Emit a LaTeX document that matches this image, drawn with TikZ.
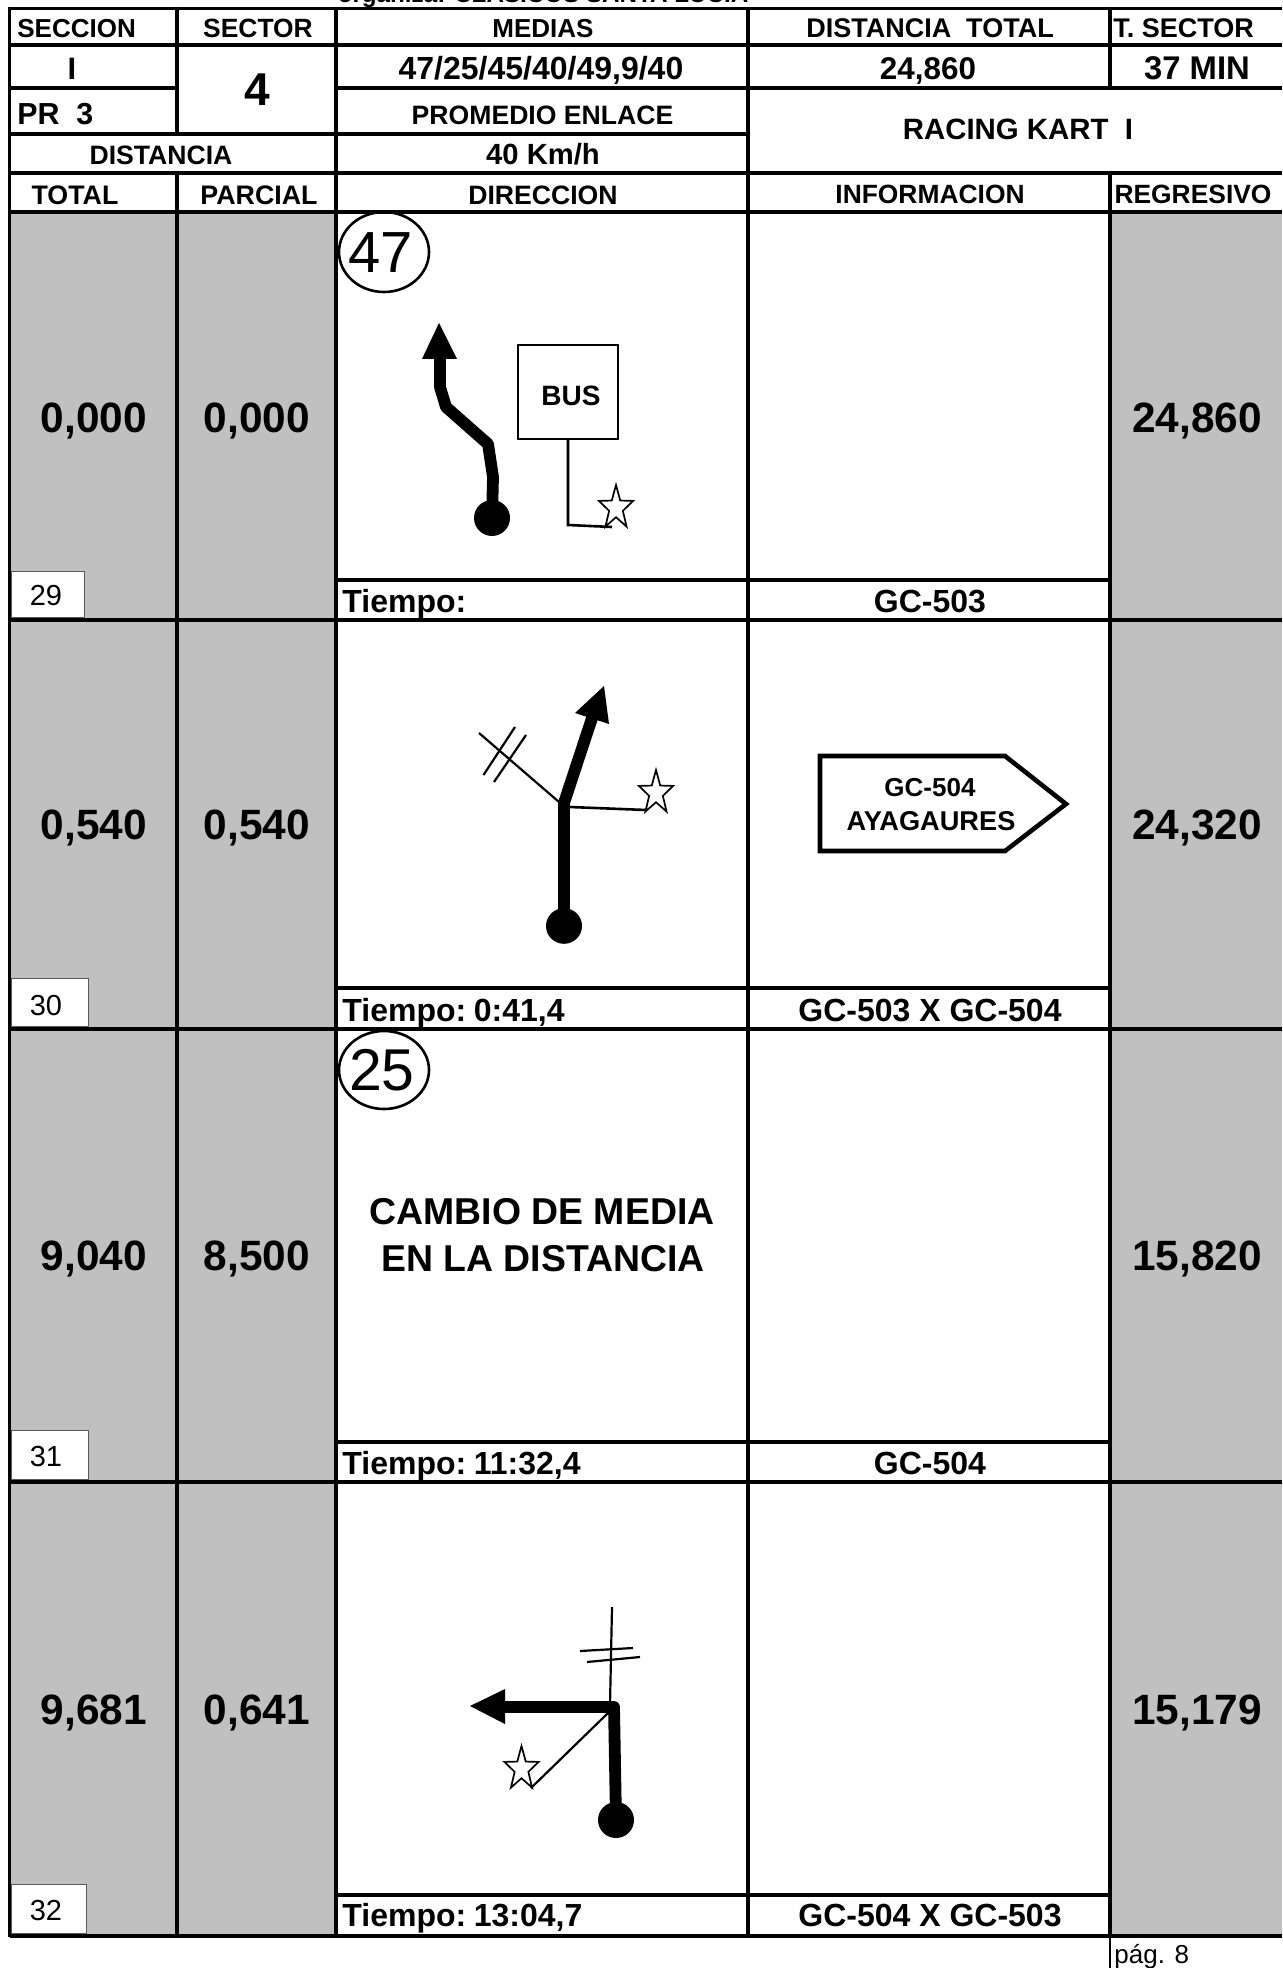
\documentclass[tikz,border=0pt]{standalone}
\usepackage{fontspec}
\setmainfont{Liberation Sans}
\tikzset{
  lab/.style={inner sep=0pt, text depth=0pt, text height=0.716*#1pt, font=\bfseries\fontsize{#1}{#1}\selectfont},
  thinlab/.style={inner sep=0pt, text depth=0pt, text height=0.716*#1pt, font=\fontsize{#1}{#1}\selectfont},
  grid/.style={line width=1.65pt, black},
  road/.style={line width=5.9pt, black, line join=round},
  side/.style={line width=1.1pt, black},
  starline/.style={line width=0.85pt, black, fill=white, line join=miter},
  rowbox/.style={draw=black!65, line width=0.5pt, fill=white},
  speedring/.style={line width=1.3pt, black},
}
\definecolor{cellgrey}{HTML}{C0C0C0}
\newcommand\hwstar[1]{\draw[starline,shift={(#1)}] (270:18 and 23) -- (306:7.2 and 9.2) -- (342:18 and 23) -- (18:7.2 and 9.2) -- (54:18 and 23) -- (90:7.2 and 9.2) -- (126:18 and 23) -- (162:7.2 and 9.2) -- (198:18 and 23) -- (234:7.2 and 9.2) -- cycle;}
\begin{document}
\begin{tikzpicture}[x=0.5pt,y=-0.5pt]
\useasboundingbox (0,0) rectangle (1282,1968);
\fill[white] (0,0) rectangle (1282,1968);
% grey columns
\fill[cellgrey] (9.5,212) rectangle (336,1936);
\fill[cellgrey] (1110,212) rectangle (1282,1936);
% number boxes
\draw[rowbox] (11,571) rectangle (84,617);
\draw[rowbox] (11,978) rectangle (88,1026);
\draw[rowbox] (11,1430) rectangle (88,1479);
\draw[rowbox] (11,1884) rectangle (86,1933);
% horizontal rules
\foreach \y in {8.5,45,173,212,620,1029,1482,1936} \draw[grid] (9.5,\y) -- (1282,\y);
\draw[grid] (9.5,88) -- (177,88);
\draw[grid] (336,88) -- (1282,88);
\draw[grid] (9.5,134) -- (748,134);
\foreach \y in {580,988,1442,1895} \draw[grid] (336,\y) -- (1110,\y);
% vertical rules
\draw[grid] (9.5,7) -- (9.5,1937);
\draw[grid] (177,7) -- (177,134);
\draw[grid] (177,173) -- (177,1936);
\draw[grid] (336,7) -- (336,1936);
\draw[grid] (748,7) -- (748,1936);
\draw[grid] (1110,7) -- (1110,88);
\draw[grid] (1110,173) -- (1110,1936);
\draw[line width=1pt] (1110,1936) -- (1110,1968);
% header texts
\node[lab=12.1, anchor=base] (org) at (543,3) {organiza: CLASICOS SANTA LUCIA};
\node[lab=13, anchor=west] (hsec) at (17,28) {SECCION};
\node[lab=13.2] (hsect) at (258,28) {SECTOR};
\node[lab=13] (hmed) at (543,28) {MEDIAS};
\node[lab=13.5] (hdist) at (930,28) {DISTANCIA\ \ TOTAL};
\node[lab=13.5, anchor=west] (htsec) at (1113,28) {T. SECTOR};
\node[lab=15.5] (vsec) at (72,68) {I};
\node[lab=23] (vsect) at (257,89) {4};
\node[lab=16] (vmed) at (541,68) {47/25/45/40/49,9/40};
\node[lab=15.7] (vdist) at (928,68) {24,860};
\node[lab=16.4] (vmin) at (1197,68) {37 MIN};
\node[lab=15.2, anchor=west] (pr) at (17,114) {PR\ \ 3};
\node[lab=13.3] (prom) at (542.5,115) {PROMEDIO ENLACE};
\node[lab=14.7] (kart) at (1018,129) {RACING KART\ \ I};
\node[lab=13.3] (dst) at (161,154.5) {DISTANCIA};
\node[lab=14.6] (kmh) at (543,154.5) {40 Km/h};
\node[lab=13.4] (ctot) at (75,194.5) {TOTAL};
\node[lab=13.4] (cpar) at (259,194.5) {PARCIAL};
\node[lab=13.3] (cdir) at (543,194.5) {DIRECCION};
\node[lab=13.2] (cinf) at (930,194.5) {INFORMACION};
\node[lab=13.2] (creg) at (1193,194.5) {REGRESIVO};
% row values
\node[lab=21.2] (a1) at (94,417) {0,000};
\node[lab=21.2] (b1) at (257,417) {0,000};
\node[lab=21.2] (c1) at (1197,417) {24,860};
\node[lab=21.2] (a2) at (94,824) {0,540};
\node[lab=21.2] (b2) at (257,824) {0,540};
\node[lab=21.2] (c2) at (1197,824) {24,320};
\node[lab=21.2] (a3) at (94,1255) {9,040};
\node[lab=21.2] (b3) at (257,1255) {8,500};
\node[lab=21.2] (c3) at (1197,1255) {15,820};
\node[lab=21.2] (a4) at (94,1709) {9,681};
\node[lab=21.2] (b4) at (257,1709) {0,641};
\node[lab=21.2] (c4) at (1197,1709) {15,179};
% row numbers
\node[thinlab=14.5] (n29) at (46,595) {29};
\node[thinlab=14.5] (n30) at (46,1005) {30};
\node[thinlab=14.5] (n31) at (46,1456) {31};
\node[thinlab=14.5] (n32) at (46,1910) {32};
% tiempo and road labels
\node[lab=16, anchor=west] (t1) at (342,601) {Tiempo:};
\node[lab=16, anchor=west] (t2) at (342,1010) {Tiempo:\kern-0.04em\ 0:41,4};
\node[lab=16, anchor=west] (t3) at (342,1463) {Tiempo:\kern-0.04em\ 11:32,4};
\node[lab=16, anchor=west] (t4) at (342,1915) {Tiempo:\kern-0.04em\ 13:04,7};
\node[lab=16] (r1) at (930,601) {GC-503};
\node[lab=16] (r2) at (930,1010) {GC-503 X GC-504};
\node[lab=16] (r3) at (930,1463) {GC-504};
\node[lab=16] (r4) at (930,1915) {GC-504 X GC-503};
% speed rings
\draw[speedring] (384,252) ellipse [x radius=22.5pt, y radius=20pt];
\node[thinlab=29] (s47) at (381,252) {47};
\draw[speedring] (384,1070) ellipse [x radius=22.5pt, y radius=19.5pt];
\node[thinlab=29.5] (s25) at (382,1069) {25};
% row 1 diagram
\draw[road] (492,518) -- (493,477) -- (488,444) -- (446,407) -- (440,387) -- (440,355);
\fill (439,323) -- (422,359) -- (457,359) -- cycle;
\fill (492,518) ellipse [x radius=9pt, y radius=9pt];
\draw[line width=1.3pt] (518,345) rectangle (618,439);
\node[lab=14] (bus) at (571,395) {BUS};
\draw[side, line width=1.3pt] (568,439) -- (568,525) -- (612,527);
\hwstar{616,508}
% row 2 diagram
\draw[road] (564,926) -- (564,803) -- (594,712);
\fill (604,686) -- (575,713) -- (609,724) -- cycle;
\fill (564,926) ellipse [x radius=9pt, y radius=8.9pt];
\draw[side] (559,802) -- (479,733);
\draw[side] (515,727) -- (483.5,775);
\draw[side] (526,735) -- (494,782);
\draw[side, line width=1.3pt] (570,807) -- (646,810);
\hwstar{656,793}
\draw[line width=2.3pt, miter limit=10] (820,756) -- (1005,756) -- (1066,804) -- (1005,851) -- (820,851) -- cycle;
\node[lab=13] (sg1) at (930,787) {GC-504};
\node[lab=13.6] (sg2) at (931,821) {AYAGAURES};
% row 3 text
\node[lab=18.7] (cm1) at (542,1211) {CAMBIO DE MEDIA};
\node[lab=18.7] (cm2) at (543,1258) {EN LA DISTANCIA};
% row 4 diagram
\draw[road] (616,1820) -- (614,1707) -- (500,1707);
\fill (470,1706) -- (505,1689) -- (505,1724) -- cycle;
\fill (616,1820) ellipse [x radius=9pt, y radius=9pt];
\draw[side] (612,1607) -- (610,1705);
\draw[side] (580,1651) -- (633,1648);
\draw[side] (587,1662) -- (640,1657);
\draw[side] (608,1713) -- (531,1788);
\hwstar{521.5,1769}
% page
\node[thinlab=13, anchor=base west] (pg) at (1114,1963) {pág. 8};
\end{tikzpicture}
\end{document}
